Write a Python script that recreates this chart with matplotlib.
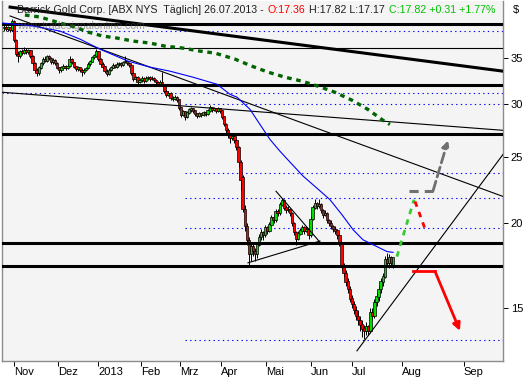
import numpy as np
import matplotlib
matplotlib.use('Agg')
import matplotlib.pyplot as plt
from matplotlib.ticker import NullLocator

#####DATA (daily bars, x = trading day, 0 = first bar of Nov 2012)#####
first_bar = -5
highs = [39.1, 39.1, 39.0, 38.9, 39.9, 39.8, 37.4, 35.8, 36.0, 36.1,
         36.3, 36.2, 36.1, 36.0, 35.4, 34.6, 33.9, 34.1, 34.6, 35.1,
         35.2, 35.4, 35.4, 35.1, 35.0, 34.9, 34.5, 34.0, 34.1, 34.3,
         34.2, 34.3, 35.2, 35.0, 34.6, 34.1, 34.1, 34.0, 33.8, 33.8,
         34.0, 34.5, 34.8, 35.3, 35.5, 36.1, 35.9, 35.0, 34.5, 34.1,
         33.7, 33.8, 34.1, 34.4, 34.3, 34.5, 34.6, 34.5, 34.7, 35.2,
         34.7, 34.5, 34.3, 33.4, 33.0, 32.9, 32.7, 32.9, 32.8, 32.9,
         33.0, 32.9, 32.9, 32.8, 32.6, 32.4, 32.5, 33.4, 32.1, 31.4,
         31.3, 31.2, 30.8, 30.9, 30.8, 30.5, 29.7, 29.4, 29.3, 29.3,
         29.6, 29.7, 29.6, 29.4, 29.1, 29.2, 29.1, 29.3, 29.2, 29.5,
         29.9, 29.7, 29.7, 29.6, 29.7, 29.6, 29.4, 28.8, 28.1, 27.6,
         27.2, 27.1, 27.0, 26.6, 26.0, 24.8, 23.6, 21.3, 20.0, 19.1,
         18.7, 18.7, 18.4, 18.8, 19.3, 19.6, 19.5, 19.9, 19.8, 20.1,
         20.6, 20.5, 21.0, 21.0, 21.5, 21.8, 21.7, 21.3, 21.2, 21.1,
         20.8, 20.1, 19.5, 19.5, 19.7, 19.9, 19.8, 19.8, 19.7, 20.5,
         21.3, 21.7, 21.5, 21.7, 21.4, 21.0, 20.9, 20.8, 20.3, 20.2,
         19.9, 19.8, 19.6, 19.3, 18.8, 17.5, 17.1, 16.6, 16.2, 15.7,
         15.4, 15.1, 14.9, 14.6, 14.4, 14.2, 14.3, 14.2, 15.0, 15.0,
         15.5, 15.8, 16.2, 16.6, 16.9, 17.9, 18.1, 18.0, 17.9, 17.82]
lows = [38.4, 38.4, 38.4, 38.2, 38.4, 37.0, 35.3, 34.6, 35.0, 35.4,
        35.5, 35.5, 35.5, 35.0, 34.2, 33.4, 32.9, 33.1, 33.7, 34.2,
        34.5, 34.6, 34.8, 34.3, 34.3, 34.2, 33.7, 33.3, 33.4, 33.7,
        33.6, 33.7, 34.0, 34.3, 33.8, 33.5, 33.5, 33.4, 33.0, 33.2,
        33.5, 33.7, 34.1, 34.5, 34.9, 35.2, 34.7, 34.1, 33.8, 33.3,
        32.9, 33.1, 33.5, 33.8, 33.8, 33.9, 34.1, 34.0, 34.1, 34.4,
        34.2, 34.0, 33.1, 32.4, 32.4, 32.1, 32.2, 32.3, 32.2, 32.3,
        32.5, 32.4, 32.5, 32.3, 32.1, 31.8, 31.9, 31.8, 31.1, 30.7,
        30.8, 30.4, 30.3, 30.4, 30.2, 29.4, 28.7, 28.8, 28.4, 28.6,
        29.0, 29.2, 29.1, 28.8, 28.6, 28.7, 28.7, 28.8, 28.8, 28.9,
        29.2, 29.2, 29.3, 29.1, 29.2, 29.1, 28.5, 27.8, 27.2, 26.7,
        26.3, 26.5, 26.3, 25.6, 24.2, 22.4, 20.8, 19.5, 18.6, 17.4,
        17.6, 17.9, 17.6, 17.8, 18.5, 18.9, 18.9, 19.1, 19.3, 19.4,
        19.8, 20.0, 20.1, 20.5, 20.6, 21.2, 20.9, 20.7, 20.8, 20.5,
        19.8, 19.2, 18.6, 18.9, 19.2, 19.4, 19.3, 19.4, 19.0, 19.1,
        20.2, 21.0, 21.0, 21.1, 20.7, 20.4, 20.5, 20.0, 19.8, 19.6,
        19.4, 19.3, 19.0, 18.5, 17.1, 16.7, 16.2, 15.8, 15.3, 15.0,
        14.7, 14.4, 14.2, 13.9, 13.6, 13.5, 13.7, 13.7, 13.8, 14.4,
        14.5, 15.1, 15.4, 15.8, 16.2, 16.6, 17.3, 17.2, 17.3, 17.17]
closes = [38.9, 38.6, 38.8, 38.5, 39.6, 37.2, 35.5, 35.2, 35.8, 35.6,
          36.0, 35.7, 35.9, 35.2, 34.4, 33.6, 33.3, 33.9, 34.4, 34.9,
          34.7, 35.2, 35.0, 34.5, 34.8, 34.4, 33.9, 33.6, 33.9, 34.1,
          33.8, 34.1, 34.9, 34.5, 34.0, 33.7, 33.9, 33.6, 33.4, 33.6,
          33.8, 34.3, 34.6, 35.1, 35.3, 35.8, 34.9, 34.3, 34.0, 33.5,
          33.2, 33.6, 33.9, 34.2, 34.0, 34.3, 34.4, 34.2, 34.5, 34.6,
          34.4, 34.2, 33.3, 32.6, 32.8, 32.3, 32.5, 32.7, 32.4, 32.7,
          32.8, 32.6, 32.7, 32.5, 32.3, 32.0, 32.3, 32.0, 31.3, 30.9,
          31.1, 30.6, 30.5, 30.7, 30.4, 29.6, 28.9, 29.2, 28.7, 29.1,
          29.4, 29.5, 29.3, 29.0, 28.8, 29.0, 28.9, 29.1, 29.0, 29.3,
          29.6, 29.4, 29.5, 29.3, 29.5, 29.3, 28.7, 28.0, 27.4, 27.0,
          26.7, 26.9, 26.5, 25.9, 24.6, 23.2, 21.0, 19.8, 18.9, 18.0,
          18.5, 18.2, 18.0, 18.6, 19.1, 19.4, 19.2, 19.7, 19.5, 19.9,
          20.4, 20.2, 20.8, 20.7, 21.3, 21.6, 21.1, 20.9, 21.0, 20.7,
          20.0, 19.4, 19.0, 19.3, 19.5, 19.7, 19.5, 19.6, 19.2, 20.3,
          21.1, 21.4, 21.2, 21.3, 20.9, 20.6, 20.7, 20.2, 20.0, 19.8,
          19.6, 19.5, 19.2, 18.7, 17.3, 16.9, 16.4, 16.0, 15.5, 15.2,
          14.9, 14.6, 14.4, 14.2, 14.0, 13.9, 14.1, 13.9, 14.8, 14.6,
          15.3, 15.6, 16.0, 16.4, 16.7, 17.7, 17.5, 17.8, 17.51, 17.82]
# each bar opens at the prior close, except the gap on 15 Apr and the last bar
opens = [38.7] + closes[:-1]
opens[111 - first_bar] = 23.4
opens[-1] = 17.36

month_labels = ['Nov', 'Dez', '2013', 'Feb', 'Mrz', 'Apr', 'Mai', 'Jun', 'Jul', 'Aug', 'Sep']
month_pos = [0, 21.4, 40.8, 61.7, 80.6, 100.5, 122.3, 144.2, 164.1, 188.3, 218.4]
price_ticks = [15, 20, 25, 30, 35]

# header pieces and their colours
header_parts = ['Barrick Gold Corp. [ABX NYS  T\u00e4glich] 26.07.2013 -', 'O:17.36',
                'H:17.82 L:17.17', 'C:17.82 +0.31 +1.77%']
header_colors = ['#202020', '#ff0000', '#202020', '#00c000']

# support / resistance levels
thick_levels = [39.28, 31.93, 27.03, 18.74, 17.33]
thin_levels = [36.21]
dotted_full = [38.40, 31.08]
dotted_right = [30.0, 23.69, 21.76, 19.72, 13.48]
dotted_start = 83

# trend lines
thick_trend_x, thick_trend_y = [-1.9, 237.4], [41.6, 33.49]
thin_trend_x = [[-5.8, 237.4], [-1.9, 237.4], [166.5, 237.4], [113.6, 148.5], [127.2, 148.5]]
thin_trend_y = [[31.18, 27.41], [40.37, 21.91], [12.99, 25.26], [17.5, 18.84], [22.3, 18.77]]

# moving averages
ma_fast_x = [-5.8, 9.2, 22.3, 32.0, 41.7, 55.3, 66.0, 75.7, 86.9, 98.5, 104.9, 108.3,
             114.6, 119.4, 124.3, 129.1, 134.0, 140.3, 147.6, 153.4, 159.2, 164.6,
             169.4, 175.2, 181.1, 184]
ma_fast_y = [39.42, 39.02, 38.36, 37.33, 36.08, 34.65, 33.95, 33.49, 32.81, 32.04, 30.96,
             30.66, 29.42, 27.96, 26.57, 25.54, 24.61, 23.48, 22.46, 21.67, 20.60, 19.58,
             18.92, 18.55, 18.18, 18.13]
ma_slow_x = [5.3, 12.6, 22.3, 29.6, 35.9, 43.2, 50.0, 57.8, 66.0, 73.3, 82.0, 90.3, 97.6,
             107.3, 115.5, 123.3, 131.6, 139.8, 147.6, 155.8, 164.1, 171.8, 179.1, 182.5]
ma_slow_y = [40.50, 40.23, 39.42, 38.89, 38.23, 37.71, 37.46, 37.08, 36.83, 36.45, 36.21,
             35.84, 35.60, 34.88, 34.06, 33.38, 32.81, 32.37, 31.83, 31.18, 30.35, 29.42,
             28.36, 27.96]

# projected scenarios
up_x, up_y = [185.9, 189.8, 194.2], [17.87, 19.58, 21.67]
pullback_x, pullback_y = [194.7, 199.5], [21.54, 19.65]
gray_x, gray_y = [191.7, 203.4], [22.31, 22.31]
gray_tip = (210.7, 26.49)
down_x, down_y = [193.7, 204.4], [17.0, 17.0]
down_tip = (216.5, 13.90)

#####PLOT#####
fig = plt.figure(figsize=(5.31, 3.80), dpi=100)
fig.patch.set_facecolor('white')
ax = fig.add_axes([2/531, 19/380, 501/531, 360/380])
ax.set_facecolor('#f4f4f4')
ax.set_yscale('log')
ax.set_xlim(-5.83, 237.4)
ax.set_ylim(12.55, 42.47)

for lvl in dotted_full:
    ax.axhline(lvl, color='#0000ff', lw=0.8, ls=(0, (1.2, 3)), zorder=1)
for lvl in dotted_right:
    ax.plot([dotted_start, 240], [lvl, lvl], color='#0000ff', lw=0.8, ls=(0, (1.2, 3)), zorder=1)

x = np.arange(len(closes)) + first_bar
o = np.array(opens)
c = np.array(closes)
colors = np.where(c >= o, '#00e000', '#ff0000')
ax.vlines(x, lows, highs, color='black', lw=0.7, zorder=3)
ax.bar(x, np.abs(c - o) + 0.03, bottom=np.minimum(o, c), width=1.15, color=colors,
       edgecolor='black', linewidth=0.5, zorder=4)

for lvl in thick_levels:
    ax.axhline(lvl, color='black', lw=2.2, zorder=5)
for lvl in thin_levels:
    ax.axhline(lvl, color='black', lw=0.8, zorder=5)
ax.plot(thick_trend_x, thick_trend_y, color='black', lw=2.2, zorder=5)
for tx, ty in zip(thin_trend_x, thin_trend_y):
    ax.plot(tx, ty, color='black', lw=0.8, zorder=5)

ax.plot(ma_fast_x, ma_fast_y, color='#0000ff', lw=0.8, zorder=6)
ax.plot(ma_slow_x, ma_slow_y, color='#006400', lw=2.4, ls=(0, (1.4, 1.4)), zorder=6)

ax.plot(up_x, up_y, color='#33cc33', lw=2.0, ls=(0, (2, 2)), zorder=6)
ax.plot(pullback_x, pullback_y, color='#ff0000', lw=2.0, ls=(0, (2, 2)), zorder=6)
ax.plot(gray_x, gray_y, color='#707070', lw=2.2, ls=(0, (3, 2)), zorder=6)
ax.annotate('', xy=gray_tip, xytext=(gray_x[-1], gray_y[-1]),
            arrowprops=dict(arrowstyle='-|>', color='#707070', lw=2.0, ls='--',
                            mutation_scale=10, shrinkA=0, shrinkB=0), zorder=6)
ax.plot(down_x, down_y, color='#ff0000', lw=2.0, zorder=6)
ax.annotate('', xy=down_tip, xytext=(down_x[-1], down_y[-1]),
            arrowprops=dict(arrowstyle='-|>', color='#ff0000', lw=2.0,
                            mutation_scale=11, shrinkA=0, shrinkB=0), zorder=6)

ax.yaxis.tick_right()
ax.set_yticks(price_ticks)
ax.set_yticklabels([str(p) for p in price_ticks])
ax.yaxis.set_minor_locator(NullLocator())
ax.set_xticks(month_pos)
ax.set_xticklabels(month_labels, ha='left')
ax.tick_params(axis='both', direction='out', length=3.5, width=0.7, colors='black',
               labelsize=8, pad=2)
ax.tick_params(axis='x', pad=1)
for lab in ax.get_xticklabels() + ax.get_yticklabels():
    lab.set_family('Liberation Sans')
for side in ['left', 'right', 'bottom']:
    ax.spines[side].set_color('#8c8c8c')
    ax.spines[side].set_linewidth(1.0)
ax.spines['top'].set_visible(False)

# header, pieces placed one after another
renderer = fig.canvas.get_renderer()
ty = 1 - 10/380
xpos = 17
for part, col in zip(header_parts, header_colors):
    t = fig.text(xpos/531, ty, part, color=col, fontsize=7.7, family='Liberation Sans', va='center')
    xpos = t.get_window_extent(renderer).x1 + 4
fig.text(17/531, 1 - 26/380, 'www.tradesignalonline.com', color='#505050', alpha=0.55,
         fontsize=7.6, family='Liberation Sans', va='center')
fig.text(513/531, ty, '$', color='black', fontsize=8, family='Liberation Sans', va='center')

plt.savefig('out.png', dpi=100)
plt.close()
